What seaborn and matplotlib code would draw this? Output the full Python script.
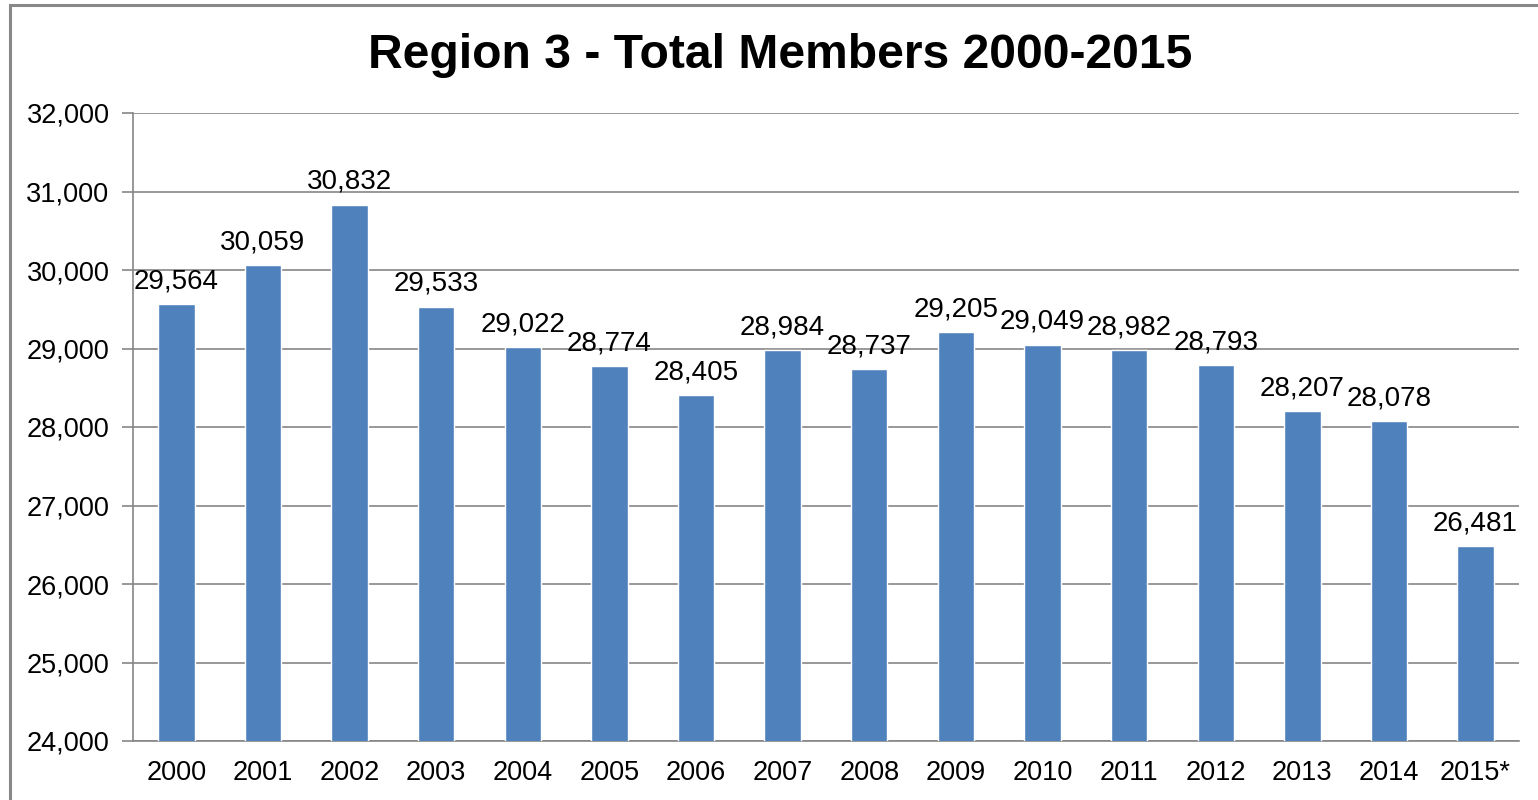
import matplotlib
matplotlib.use("Agg")
import matplotlib.pyplot as plt
import seaborn as sns
import pandas as pd
from matplotlib.patches import Rectangle
from matplotlib.ticker import FuncFormatter, MultipleLocator

# ----- données -----
years = ["2000", "2001", "2002", "2003", "2004", "2005", "2006", "2007",
         "2008", "2009", "2010", "2011", "2012", "2013", "2014", "2015*"]
members = [29564, 30059, 30832, 29533, 29022, 28774, 28405, 28984,
           28737, 29205, 29049, 28982, 28793, 28207, 28078, 26481]

df = pd.DataFrame({"year": years, "members": members})

sns.set_style("white")
plt.rcParams["font.family"] = ["Liberation Sans", "DejaVu Sans"]
plt.rcParams["text.color"] = "black"
plt.rcParams["xtick.labelcolor"] = "black"
plt.rcParams["ytick.labelcolor"] = "black"

fig = plt.figure(figsize=(15.38, 8), dpi=100)
ax = fig.add_axes([0.0865, 0.07375, 0.9011, 0.785])

sns.barplot(data=df, x="year", y="members", color="#4F81BD",
            saturation=1, width=0.42, ax=ax, zorder=3)

ax.set_ylim(24000, 32000)
ax.yaxis.set_major_locator(MultipleLocator(1000))
ax.yaxis.set_major_formatter(FuncFormatter(lambda v, p: f"{int(v):,}"))
ax.set_xlim(-0.5, len(years) - 0.5)
ax.grid(axis="y", color="#868686", linewidth=1.2, zorder=0)

# étiquettes de valeurs
for i, v in enumerate(members):
    ax.annotate(f"{v:,}", (i, v), xytext=(0, 7), textcoords="offset points",
                ha="center", va="bottom", fontsize=20, color="black")

# axes
for s in ["top", "right"]:
    ax.spines[s].set_visible(False)
for s in ["left", "bottom"]:
    ax.spines[s].set_color("#868686")
    ax.spines[s].set_linewidth(1.2)

ax.set_xticks([i - 0.5 for i in range(len(years) + 1)], minor=True)
ax.tick_params(axis="x", which="major", length=0, labelsize=19.5, pad=14)
ax.tick_params(axis="x", which="minor", length=8, color="#868686", width=1.2,
               direction="out")
ax.tick_params(axis="y", length=8, color="#868686", width=1.2, labelsize=19.5,
               pad=9, left=True)
ax.set_xlabel("")
ax.set_ylabel("")

fig.text(0.507, 0.93, "Region 3 - Total Members 2000-2015", ha="center",
         va="center", fontsize=34.6, fontweight="bold", color="black")

# cadre du graphique
fig.patches.append(Rectangle((10 / 1538, -0.05), 1.1, 0.05 + 795 / 800,
                             transform=fig.transFigure, fill=False,
                             edgecolor="#888888", linewidth=2.2))

fig.savefig("out.png", dpi=100)
